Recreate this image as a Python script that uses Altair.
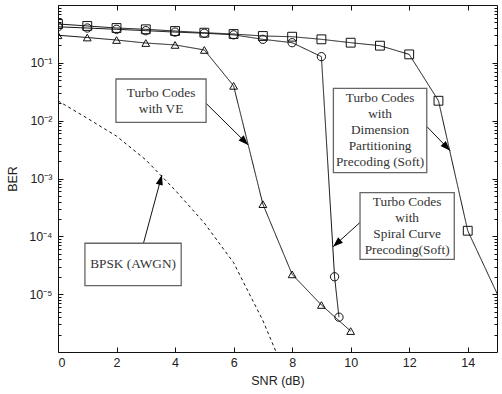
import math
import altair as alt
import pandas as pd

# ---------------- data ----------------
snr_dp = [0, 1, 2, 3, 4, 5, 6, 7, 8, 9, 10, 11, 12, 13, 14, 16]
ber_dp = [0.47, 0.434, 0.40, 0.38, 0.355, 0.332, 0.315, 0.291, 0.283, 0.255,
          0.223, 0.198, 0.140, 0.0221, 1.25e-4, 8.5e-7]

snr_sc = [0, 1, 2, 3, 4, 5, 6, 7, 8, 9, 9.45, 9.6]
ber_sc = [0.42, 0.40, 0.38, 0.36, 0.34, 0.325, 0.305, 0.255, 0.223, 0.128,
          2.0e-5, 4.0e-6]

snr_ve = [0, 1, 2, 3, 4, 5, 6, 7, 8, 9, 10]
ber_ve = [0.30, 0.274, 0.248, 0.22, 0.204, 0.167, 0.040, 3.6e-4, 2.2e-5,
          6.5e-6, 2.3e-6]

snr_bpsk = [0, 1, 2, 3, 4, 5, 6, 7, 8]
ber_bpsk = [0.022, 0.011, 5.4e-3, 2.1e-3, 6.3e-4, 1.7e-4, 3.5e-5, 3.5e-6, 2.2e-7]

series_names = ["DP", "SC", "VE", "BPSK"]

# annotation boxes (data coordinates)
box_x1 = [1.98, 9.41, 10.32, 0.92]
box_x2 = [5.06, 12.6, 13.54, 4.21]
box_top = [0.0525, 0.0363, 5.69e-4, 7.59e-5]
box_bottom = [0.00933, 0.00126, 3.98e-5, 1.41e-5]
box_text = ["Turbo Codes\nwith VE",
            "Turbo Codes\nwith\nDimension\nPartitioning\nPrecoding (Soft)",
            "Turbo Codes\nwith\nSpiral Curve\nPrecoding(Soft)",
            "BPSK (AWGN)"]

# arrows: tail -> tip (data coordinates)
arrow_x0 = [5.06, 12.6, 10.32, 2.92]
arrow_y0 = [10 ** -1.70, 10 ** -2.10, 10 ** -3.76, 10 ** -4.12]
arrow_x1 = [6.50, 13.40, 9.40, 3.55]
arrow_y1 = [10 ** -2.42, 10 ** -2.52, 10 ** -4.18, 10 ** -2.94]

# ---------------- layout ----------------
W, H = 439, 347
X_DOM = [0, 15]
Y_DOM = [1e-6, 1]
LINE_H = 16

rows = []
for name, xs_, ys_ in [("DP", snr_dp, ber_dp), ("SC", snr_sc, ber_sc),
                       ("VE", snr_ve, ber_ve), ("BPSK", snr_bpsk, ber_bpsk)]:
    for x, y in zip(xs_, ys_):
        rows.append({"series": name, "snr": x, "ber": y})
df = pd.DataFrame(rows)
df_pts = df[df.series != "BPSK"]

boxes = pd.DataFrame({
    "x1": box_x1, "x2": box_x2, "y1": box_top, "y2": box_bottom,
    "label": box_text,
    "xm": [(a + b) / 2 for a, b in zip(box_x1, box_x2)],
    "ym": [math.sqrt(a * b) for a, b in zip(box_top, box_bottom)],
})

ppx = W / (X_DOM[1] - X_DOM[0])
ppd = H / 6.0
angles = []
for x0, y0, x1, y1 in zip(arrow_x0, arrow_y0, arrow_x1, arrow_y1):
    dx = (x1 - x0) * ppx
    dy = -(math.log10(y1) - math.log10(y0)) * ppd
    angles.append(math.degrees(math.atan2(dx, -dy)) % 360)
arrows = pd.DataFrame({"x0": arrow_x0, "y0": arrow_y0, "x1": arrow_x1,
                       "y1": arrow_y1, "angle": angles})

xs = alt.Scale(domain=X_DOM, nice=False, zero=False)
ys = alt.Scale(type="log", domain=Y_DOM, nice=False)

FONT = "Liberation Sans"
AX = dict(domain=False, grid=False, tickColor="#111", tickWidth=1,
          labelFont=FONT, labelFontSize=12.5, labelColor="#222")

decades = [1e-5, 1e-4, 1e-3, 1e-2, 1e-1]
minors = [m * 10 ** k for k in range(-6, 0) for m in range(2, 10)]
sup = ("datum.value > 0.05 ? '10⁻¹' : datum.value > 0.005 ? '10⁻²' : "
       "datum.value > 0.0005 ? '10⁻³' : datum.value > 0.00005 ? '10⁻⁴' : '10⁻⁵'")

x_bottom = alt.Axis(orient="bottom", values=list(range(0, 16, 2)), offset=-5,
                    tickSize=5, labelPadding=4, title="SNR (dB)",
                    titleFont=FONT, titleFontSize=12.5, titleFontWeight="normal",
                    titleColor="#222", titlePadding=6, **AX)
x_top = alt.Axis(orient="top", values=list(range(0, 16, 2)), offset=-5,
                 tickSize=5, labels=False, title=None, **AX)
y_left = alt.Axis(orient="left", values=decades, labelExpr=sup, offset=-5,
                  tickSize=5, labelPadding=6, title="BER", titleFont=FONT,
                  titleFontSize=12.5, titleFontWeight="normal", titleColor="#222",
                  titlePadding=9, **AX)
y_left_minor = alt.Axis(orient="left", values=minors, offset=-3, tickSize=3,
                        labels=False, title=None, **AX)
y_right = alt.Axis(orient="right", values=decades, offset=-5, tickSize=5,
                   labels=False, title=None, **AX)
y_right_minor = alt.Axis(orient="right", values=minors, offset=-3, tickSize=3,
                         labels=False, title=None, **AX)

lines = alt.Chart(df).mark_line(clip=True, color="#111", strokeWidth=1).encode(
    x=alt.X("snr:Q", scale=xs, axis=x_bottom),
    y=alt.Y("ber:Q", scale=ys, axis=y_left),
    detail="series:N",
    strokeDash=alt.StrokeDash("series:N", legend=None,
                              scale=alt.Scale(domain=series_names,
                                              range=[[1, 0], [1, 0], [1, 0], [3, 3]])),
)

points = alt.Chart(df_pts).mark_point(clip=True, filled=False, color="#111",
                                      strokeWidth=1, opacity=1).encode(
    x=alt.X("snr:Q", scale=xs, axis=x_top),
    y=alt.Y("ber:Q", scale=ys, axis=y_left_minor),
    shape=alt.Shape("series:N", legend=None,
                    scale=alt.Scale(domain=["DP", "SC", "VE"],
                                    range=["square", "circle", "triangle-up"])),
    size=alt.Size("series:N", legend=None,
                  scale=alt.Scale(domain=["DP", "SC", "VE"], range=[78, 60, 90])),
)

rule_arrows = alt.Chart(arrows).mark_rule(color="#111", strokeWidth=1).encode(
    x=alt.X("x0:Q", scale=xs, axis=None),
    y=alt.Y("y0:Q", scale=ys, axis=y_right),
    x2="x1:Q", y2="y1:Q",
)

heads = alt.Chart(arrows).mark_point(
    shape="M0,0L-0.36,1L0.36,1Z", filled=True, color="#000", size=400, opacity=1
).encode(
    x=alt.X("x1:Q", scale=xs, axis=None),
    y=alt.Y("y1:Q", scale=ys, axis=y_right_minor),
    angle=alt.Angle("angle:Q", scale=None),
)

rects = alt.Chart(boxes).mark_rect(fill="white", stroke="#666",
                                   strokeWidth=1.3).encode(
    x=alt.X("x1:Q", scale=xs, axis=None),
    x2="x2:Q",
    y=alt.Y("y1:Q", scale=ys, axis=None),
    y2="y2:Q",
)

# one text layer per box so each multi-line block is centred in its box
text_layers = []
for i in range(len(box_text)):
    n = box_text[i].count("\n") + 1
    text_layers.append(
        alt.Chart(boxes.iloc[[i]]).mark_text(
            font="Liberation Serif", fontSize=13.3, lineHeight=LINE_H,
            lineBreak="\n", color="#333", align="center", baseline="middle",
            dy=-(n - 1) * LINE_H / 2,
        ).encode(
            x=alt.X("xm:Q", scale=xs, axis=None),
            y=alt.Y("ym:Q", scale=ys, axis=None),
            text="label:N",
        )
    )

chart = alt.layer(lines, points, rule_arrows, rects, *text_layers, heads).resolve_axis(
    x="independent", y="independent"
).properties(
    width=W, height=H,
    autosize=alt.AutoSizeParams(type="none"),
    padding={"left": 58, "top": 5, "right": 5, "bottom": 42},
    background="white",
).configure_view(stroke="#111", strokeWidth=1)

chart.save("out.html", embed_options={"renderer": "svg", "actions": False})
